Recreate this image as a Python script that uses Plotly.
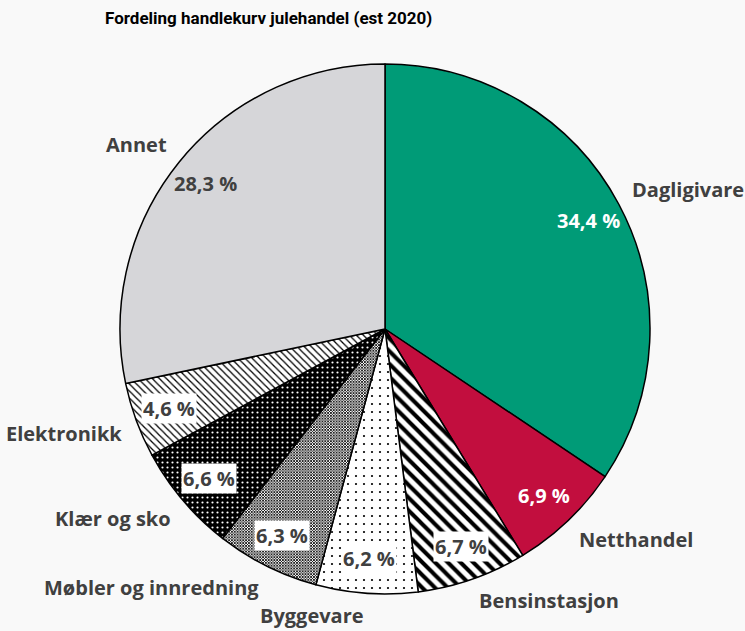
import math
import plotly.graph_objects as go

# Data
categories = ["Dagligivare", "Netthandel", "Bensinstasjon", "Byggevare",
              "Møbler og innredning", "Klær og sko", "Elektronikk", "Annet"]
shares = [34.4, 6.9, 6.7, 6.2, 6.3, 6.6, 4.6, 28.3]

# Styling per slice
fill_colors = ["#009B77", "#C20E3E", "white", "white", "white", "black", "white", "#D6D6D9"]
pattern_shapes = ["", "", "\\", ".", "x", ".", "\\", ""]
pattern_fg = ["#009B77", "#C20E3E", "black", "black", "black", "white", "black", "#D6D6D9"]
pattern_bg = fill_colors
pattern_size = [8, 8, 9, 8, 2, 5, 5, 8]
pattern_solid = [0.5, 0.5, 0.45, 0.06, 0.65, 0.15, 0.25, 0.5]
pct_font_colors = ["white", "white", "#404040", "#404040", "#404040", "#404040", "#404040", "#404040"]
pct_boxes = ["rgba(0,0,0,0)", "rgba(0,0,0,0)", "white", "white", "white", "white", "white", "rgba(0,0,0,0)"]

W, H = 745, 631
cx, cy, R = 385, 302, 265  # pie centre (from bottom) and radius in px
label_font = dict(family="Open Sans", size=20, color="#404040", weight="bold")

fig = go.Figure()
fig.add_trace(go.Pie(
    labels=categories,
    values=shares,
    sort=False,
    direction="clockwise",
    rotation=0,
    textinfo="none",
    hoverinfo="skip",
    showlegend=False,
    domain=dict(x=[(cx - R) / W, (cx + R) / W], y=[(cy - R) / H, (cy + R) / H]),
    marker=dict(
        colors=fill_colors,
        line=dict(color="black", width=1.5),
        pattern=dict(shape=pattern_shapes, fgcolor=pattern_fg, bgcolor=pattern_bg,
                     size=pattern_size, solidity=pattern_solid),
    ),
))

# labels placed from the slice mid angles
annotations = []
total = sum(shares)
cum = 0
for i, (name, v) in enumerate(zip(categories, shares)):
    mid = (cum + v / 2) / total * 2 * math.pi
    cum += v
    s, c = math.sin(mid), math.cos(mid)
    # percentage inside
    r_in = 0.87 * R
    annotations.append(dict(
        x=(cx + r_in * s) / W, y=(cy + r_in * c) / H, xref="paper", yref="paper",
        xanchor="center", yanchor="middle",
        text=f"{v:.1f} %".replace(".", ","), showarrow=False,
        font=dict(label_font, color=pct_font_colors[i]),
        bgcolor=pct_boxes[i], borderpad=1,
    ))
    # category name outside
    r_out = 1.05 * R
    annotations.append(dict(
        x=(cx + r_out * s) / W, y=(cy + r_out * c) / H, xref="paper", yref="paper",
        text=name, showarrow=False,
        xanchor="left" if s > 0 else "right",
        yanchor="middle", yshift=9 if c > 0 else -9,
        font=label_font,
    ))

annotations.append(dict(
    x=268 / W, y=1 - 18 / H, xref="paper", yref="paper", showarrow=False,
    xanchor="center", yanchor="middle",
    text="Fordeling handlekurv julehandel (est 2020)",
    font=dict(family="Roboto", size=17, color="black", weight="bold"),
))

fig.update_layout(
    width=W, height=H,
    margin=dict(l=0, r=0, t=0, b=0),
    paper_bgcolor="#F9F9F9",
    plot_bgcolor="#F9F9F9",
    annotations=annotations,
)

fig.write_html("out.html", config={"displayModeBar": False},
               post_script="document.body.style.margin='0';document.body.style.background='#F9F9F9';")
